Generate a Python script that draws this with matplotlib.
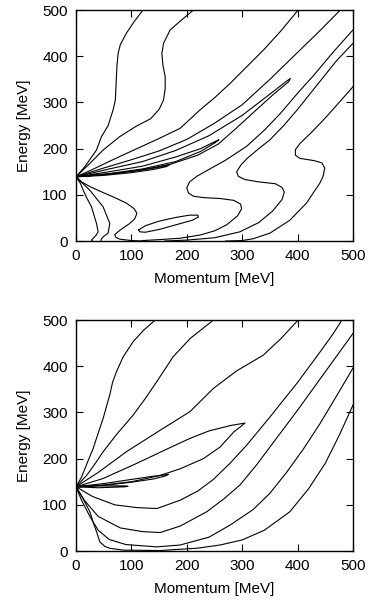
import matplotlib
matplotlib.use("Agg")
import matplotlib.pyplot as plt

plt.rcParams['font.family'] = ['Liberation Sans', 'DejaVu Sans']

# contour lines, (momentum, energy) in MeV
top_curves = [
    [(0,139),(16,161),(37,197),(46,226),(58,250),(67,284),(71,305),(72,330),(73,356),(74,380),(76,406),(80,425),(91,450),(105,475),(121,500)],
    [(0,139),(25,168),(49,197),(79,226),(108,248),(135,265),(150,285),(158,305),(161,330),(161,356),(157,380),(155,406),(158,428),(170,457),(190,478),(212,500)],
    [(0,139),(30,155),(70,178),(110,200),(150,222),(188,244),(224,284),(250,310),(278,341),(308,377),(338,413),(370,455),(401,500)],
    [(0,139),(50,158),(100,176),(150,195),(200,220),(250,255),(300,295),(350,350),(398,406),(440,455),(477,500)],
    [(500,457),(465,410),(430,360),(400,320),(368,275),(340,240),(308,205),(270,175),(240,155),(218,140),(205,128),(200,115),(203,104),(212,97),(230,94),(260,92),(285,88),(297,80),(299,70),(292,55),(272,35),(250,22),(224,13),(188,6),(150,3),(120,1)],
    [(500,428),(470,390),(440,345),(400,285),(375,250),(350,219),(330,200),(310,180),(298,165),(290,150),(293,140),(305,133),(330,128),(360,124),(372,116),(376,106),(372,90),(355,65),(330,40),(296,20),(250,7),(200,2),(160,0)],
    [(500,334),(475,300),(452,269),(425,235),(405,212),(396,198),(396,186),(404,179),(430,174),(444,169),(449,158),(446,140),(440,125),(416,82),(386,45),(350,17),(320,5),(300,1),(270,0)],
    [(0,139),(60,156),(120,172),(180,196),(240,228),(300,272),(350,318),(380,346),(387,352),(384,345),(355,316),(320,278),(290,245),(257,210),(220,186),(170,166),(120,154),(60,145),(0,139)],
    [(0,139),(60,150),(120,162),(180,182),(225,200),(252,216),(258,219),(250,212),(225,194),(180,172),(120,156),(60,146),(0,139)],
    [(0,139),(50,144),(100,151),(140,158),(165,164),(170,166),(163,161),(140,155),(100,148),(50,142),(0,139)],
    [(0,139),(10,128),(25,118),(43,108),(70,94),(91,82),(105,70),(110,60),(106,48),(97,38),(80,24),(70,14),(72,8),(79,4),(100,1),(125,0)],
    [(0,139),(8,125),(13,110),(20,92),(28,74),(37,38),(40,20),(36,12),(31,6),(28,2),(30,0)],
    [(0,139),(12,125),(25,110),(37,92),(49,74),(61,38),(58,17),(50,10),(46,5),(45,0)],
    [(113,24),(125,33),(150,43),(180,51),(205,56),(220,56),(221,52),(210,45),(180,35),(150,25),(125,19),(115,20),(113,24)],
]

bottom_curves = [
    [(0,139),(10,160),(20,190),(31,222),(40,255),(49,287),(55,313),(61,338),(66,365),(73,388),(85,420),(103,453),(122,478),(143,500)],
    [(0,139),(20,165),(35,190),(49,215),(75,255),(103,294),(125,330),(146,367),(175,420),(206,460),(248,500)],
    [(0,139),(40,170),(91,215),(150,260),(206,302),(248,352),(290,390),(338,424),(370,460),(401,500)],
    [(0,139),(49,157),(110,190),(170,224),(206,244),(240,260),(280,272),(300,276),(305,277),(298,270),(285,258),(260,225),(230,200),(188,178),(150,163),(100,150),(50,143),(0,139)],
    [(0,139),(50,146),(100,155),(140,162),(163,165),(167,166),(160,162),(140,156),(100,149),(50,142),(0,139)],
    [(0,139),(40,141),(90,141),(94,140),(88,139),(40,137),(0,139)],
    [(0,139),(30,118),(70,100),(110,94),(146,92),(188,110),(220,130),(248,155),(278,190),(308,229),(350,290),(400,365),(440,430),(464,470),(480,500)],
    [(0,139),(15,110),(40,75),(80,50),(120,42),(152,40),(188,54),(236,85),(266,112),(296,143),(325,185),(350,225),(400,305),(450,388),(500,471)],
    [(0,139),(10,110),(25,75),(40,45),(60,25),(90,14),(146,9),(188,13),(240,30),(278,56),(320,90),(350,125),(380,170),(410,220),(440,275),(470,335),(500,396)],
    [(0,139),(12,115),(25,85),(31,62),(37,42),(43,20),(52,10),(61,6),(85,2),(150,1),(218,6),(260,13),(300,24),(340,45),(386,85),(420,135),(450,190),(475,250),(500,316)],
]

fig = plt.figure(figsize=(3.68, 6.03), dpi=100)
ax_top = fig.add_axes([0.2065, 0.6003, 0.7527, 0.383])
ax_bot = fig.add_axes([0.2065, 0.0862, 0.7527, 0.383])

for ax, curves in [(ax_top, top_curves), (ax_bot, bottom_curves)]:
    for c in curves:
        ax.plot([p[0] for p in c], [p[1] for p in c], color='black', lw=0.8)
    ax.set_xlim(0, 500)
    ax.set_ylim(0, 500)
    ax.set_xticks([0, 100, 200, 300, 400, 500])
    ax.set_yticks([0, 100, 200, 300, 400, 500])
    ax.tick_params(direction='in', top=True, right=True, length=5, width=0.8,
                   labelsize=11, pad=6)
    for s in ax.spines.values():
        s.set_linewidth(1.0)
    ax.set_xlabel('Momentum [MeV]', fontsize=11, labelpad=6)
    ax.set_ylabel('Energy [MeV]', fontsize=11, labelpad=8)

fig.savefig('out.png', dpi=100)
